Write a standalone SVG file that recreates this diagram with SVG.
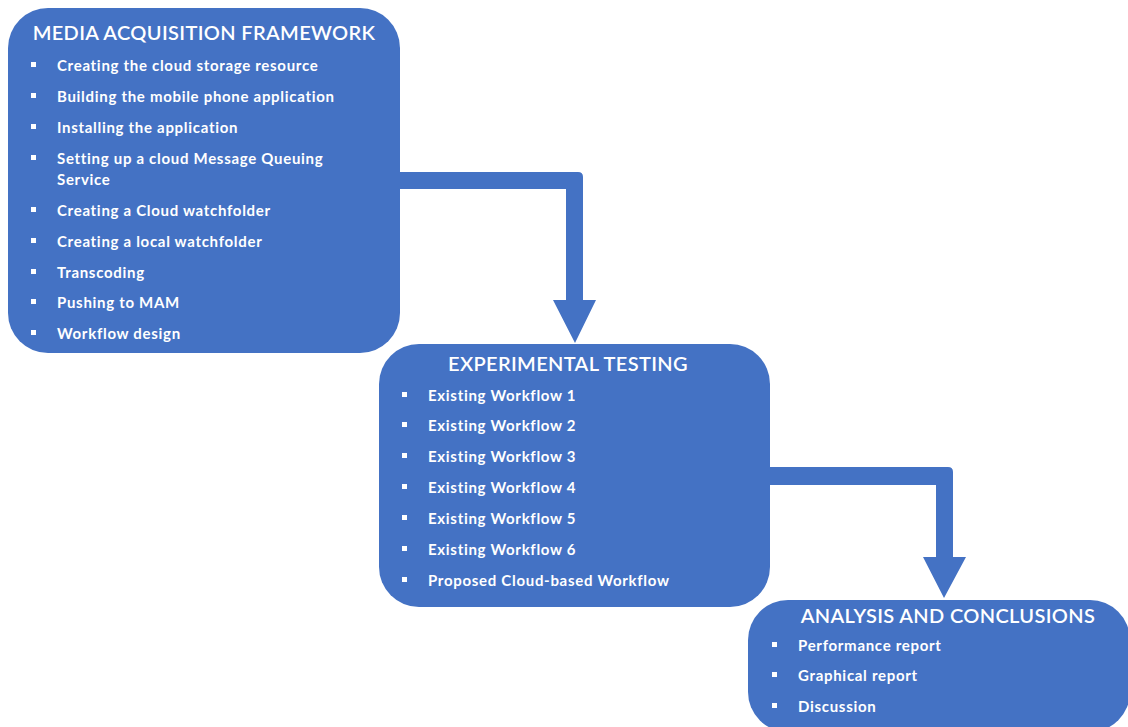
<svg xmlns="http://www.w3.org/2000/svg" width="1128" height="727" viewBox="0 0 1128 727">
<style>
.box{fill:#4472C4}
.conn{fill:#4472C4}
.t{font-family:Lato,"Liberation Sans",sans-serif;fill:#fff}
.title{font-size:20px;font-weight:600;letter-spacing:0.35px}
.item{font-size:15px;font-weight:700;letter-spacing:0.7px}
.b{fill:#fff}
</style>
<rect width="1128" height="727" fill="#fff"/>
<g id="connectors">
<path class="conn" d="M396 172 H578 Q583 172 583 177 V300 H596 L575 343 L553 300 H566 V189 H396 Z"/>
<path class="conn" d="M766 467 H948 Q953 467 953 472 V557 H966 L944 598 L923 557 H936 V485 H766 Z"/>
</g>
<g id="media">
<rect class="box" x="8" y="8" width="392" height="345" rx="40"/>
<text class="t title" x="204" y="40" text-anchor="middle">MEDIA ACQUISITION FRAMEWORK</text>
<g class="b"><rect x="31" y="62" width="5" height="5"/><rect x="31" y="93" width="5" height="5"/><rect x="31" y="124" width="5" height="5"/><rect x="31" y="155" width="5" height="5"/><rect x="31" y="207" width="5" height="5"/><rect x="31" y="238" width="5" height="5"/><rect x="31" y="269" width="5" height="5"/><rect x="31" y="299" width="5" height="5"/><rect x="31" y="330" width="5" height="5"/></g>
<text class="t item" x="57" y="71">Creating the cloud storage resource</text>
<text class="t item" x="57" y="102">Building the mobile phone application</text>
<text class="t item" x="57" y="133">Installing the application</text>
<text class="t item" x="57" y="164">Setting up a cloud Message Queuing</text>
<text class="t item" x="57" y="185">Service</text>
<text class="t item" x="57" y="216">Creating a Cloud watchfolder</text>
<text class="t item" x="57" y="247">Creating a local watchfolder</text>
<text class="t item" x="57" y="278">Transcoding</text>
<text class="t item" x="57" y="308">Pushing to MAM</text>
<text class="t item" x="57" y="339">Workflow design</text>
</g>
<g id="experimental">
<rect class="box" x="379" y="344" width="391" height="263" rx="40"/>
<text class="t title" x="568" y="371" text-anchor="middle">EXPERIMENTAL TESTING</text>
<g class="b"><rect x="402" y="392" width="5" height="5"/><rect x="402" y="422" width="5" height="5"/><rect x="402" y="453" width="5" height="5"/><rect x="402" y="484" width="5" height="5"/><rect x="402" y="515" width="5" height="5"/><rect x="402" y="546" width="5" height="5"/><rect x="402" y="577" width="5" height="5"/></g>
<text class="t item" x="428" y="401">Existing Workflow 1</text>
<text class="t item" x="428" y="431">Existing Workflow 2</text>
<text class="t item" x="428" y="462">Existing Workflow 3</text>
<text class="t item" x="428" y="493">Existing Workflow 4</text>
<text class="t item" x="428" y="524">Existing Workflow 5</text>
<text class="t item" x="428" y="555">Existing Workflow 6</text>
<text class="t item" x="428" y="586">Proposed Cloud-based Workflow</text>
</g>
<g id="analysis">
<rect class="box" x="748" y="600" width="382" height="132" rx="40"/>
<text class="t title" x="948" y="623" text-anchor="middle">ANALYSIS AND CONCLUSIONS</text>
<g class="b"><rect x="772" y="642" width="5" height="5"/><rect x="772" y="672" width="5" height="5"/><rect x="772" y="703" width="5" height="5"/></g>
<text class="t item" x="798" y="651">Performance report</text>
<text class="t item" x="798" y="681">Graphical report</text>
<text class="t item" x="798" y="712">Discussion</text>
</g>
</svg>
